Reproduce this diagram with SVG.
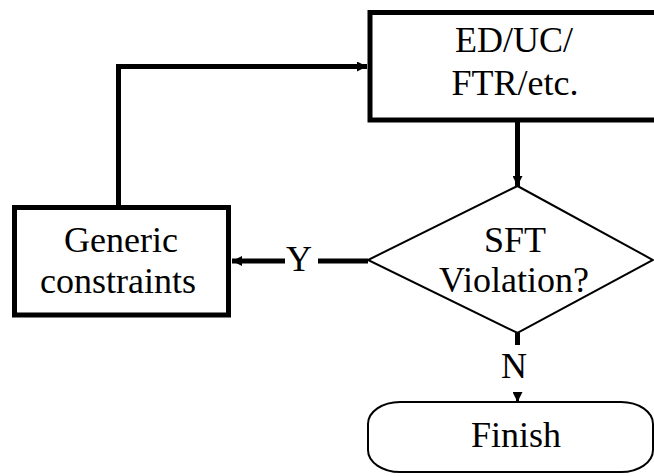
<svg xmlns="http://www.w3.org/2000/svg" width="654" height="476" viewBox="0 0 654 476">
<style>
.box{fill:#fff;stroke:#000;stroke-width:5}
.thin{fill:#fff;stroke:#000;stroke-width:2}
.ln{fill:none;stroke:#000;stroke-width:5}
.ln2{fill:none;stroke:#000;stroke-width:3}
text{font-family:"Liberation Serif","Times New Roman",serif;font-size:36px;fill:#000;text-anchor:middle}
</style>
<defs>
<marker id="ah" viewBox="0 0 10 10" refX="10" refY="5" markerWidth="10" markerHeight="10" markerUnits="userSpaceOnUse" orient="auto">
<path d="M0,0 L10,5 L0,10 z" fill="#000"/>
</marker>
</defs>
<g id="connectors">
<path class="ln" d="M118.5,207 V66.5 H367" marker-end="url(#ah)"/>
<path class="ln" d="M517.5,120 V186" marker-end="url(#ah)"/>
<path class="ln" d="M368,261 H318"/>
<path class="ln" d="M285,261 H232" marker-end="url(#ah)"/>
<path class="ln" d="M517.5,333 V345"/>
<path class="ln2" d="M517.5,394 V402" marker-end="url(#ah)"/>
<text x="299" y="271">Y</text>
<text x="514" y="378">N</text>
</g>
<g id="top-box">
<rect class="box" x="370" y="12.5" width="295" height="107.5"/>
<text x="514" y="52">ED/UC/</text>
<text x="515" y="95">FTR/etc.</text>
</g>
<g id="decision">
<polygon class="thin" points="517.5,186 653,260 517.5,333 368,260"/>
<text x="515" y="252">SFT</text>
<text x="514" y="292">Violation?</text>
</g>
<g id="generic-box">
<rect class="box" x="14.5" y="207.5" width="214" height="107.5"/>
<text x="121" y="252">Generic</text>
<text x="118" y="293">constraints</text>
</g>
<g id="finish">
<rect class="thin" x="368" y="402" width="285" height="70" rx="32" ry="22"/>
<text x="516" y="447">Finish</text>
</g>
</svg>
